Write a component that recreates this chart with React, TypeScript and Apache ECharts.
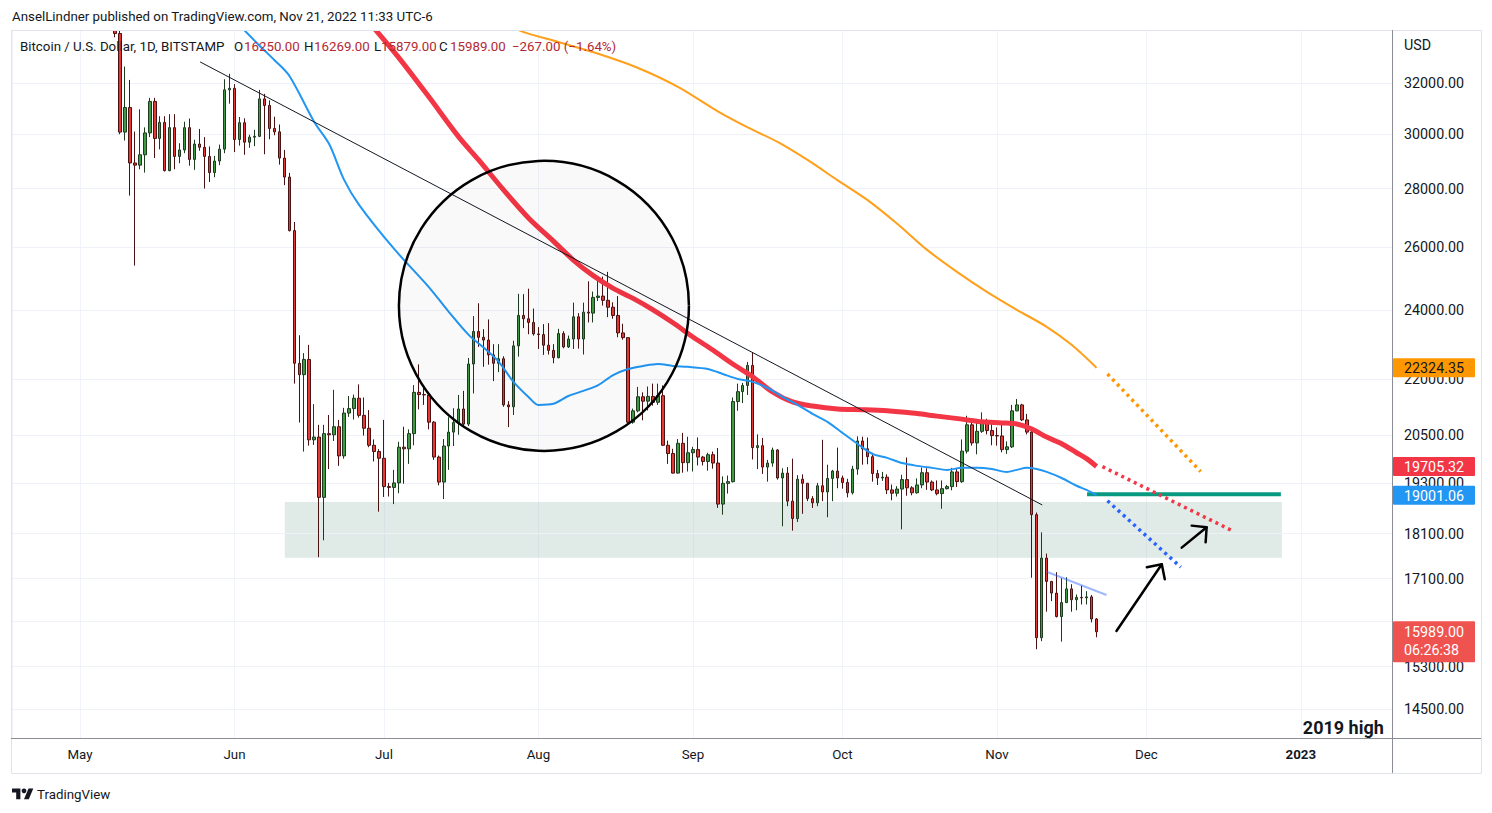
import { useEffect, useRef } from 'react';
import * as echarts from 'echarts';

const DAY = 86400000;
const BASE = new Date(2022, 4, 1).getTime(); // day 0 = 1 May 2022
const ts = (d: number) => BASE + d * DAY;

const FIRST_CANDLE_DAY = 7; // 8 May 2022
// [open, high, low, close] per day, BTC/USD Bitstamp, 1D
const candles: number[][] = [
  [35470, 35500, 33900, 34060], [34060, 34240, 29990, 30070], [30070, 32670, 29750, 31020], [31020, 32120, 27750, 28920],
  [28920, 30090, 25400, 28840], [28840, 30950, 28690, 29220], [29220, 30250, 28570, 30040], [30040, 31400, 29880, 31260],
  [31260, 31400, 29100, 29830], [29830, 30680, 29420, 30440], [30440, 30680, 28610, 28640], [28640, 30760, 28620, 30240],
  [30240, 30760, 28690, 29160], [29160, 29650, 28910, 29400], [29400, 30470, 29280, 30240], [30240, 30590, 28820, 29050],
  [29050, 29780, 28670, 29620], [29620, 30190, 29370, 29500], [29500, 29880, 28000, 29160], [29160, 29530, 28230, 28570],
  [28570, 29180, 28400, 28990], [28990, 29600, 28840, 29430], [29430, 32150, 29280, 31720], [31720, 32370, 31170, 31780],
  [31780, 31950, 29320, 29790], [29790, 30650, 29560, 30430], [30430, 30600, 29220, 29690], [29690, 29970, 29480, 29880],
  [29880, 30160, 29540, 29910], [29910, 31720, 29880, 31360], [31360, 31560, 29240, 31100], [31100, 31300, 29800, 30210],
  [30210, 30660, 29950, 30080], [30080, 30360, 28860, 29100], [29100, 29400, 28120, 28410], [28410, 28560, 26520, 26550],
  [26550, 26840, 21880, 22450], [22450, 23260, 20830, 22130], [22130, 22740, 20080, 22560], [22560, 22980, 20230, 20380],
  [20380, 21320, 20250, 20450], [20450, 20770, 17570, 18950], [18950, 20770, 17950, 20540], [20540, 21030, 19640, 20510],
  [20510, 21710, 20350, 20720], [20720, 20900, 19720, 19970], [19970, 21220, 19900, 21080], [21080, 21540, 20980, 21200],
  [21200, 21580, 20910, 21480], [21480, 21860, 20960, 21020], [21020, 21500, 20490, 20680], [20680, 21160, 20190, 20240],
  [20240, 20390, 19830, 20080], [20080, 20140, 18610, 19910], [19910, 20900, 18960, 19210], [19210, 19300, 18970, 19190],
  [19190, 19620, 18790, 19300], [19300, 20330, 19050, 20190], [20190, 20720, 19280, 20150], [20150, 20650, 19770, 20540],
  [20540, 21840, 20240, 21640], [21640, 22420, 21180, 21580], [21580, 21800, 21300, 21570], [21570, 21650, 20650, 20840],
  [20840, 20870, 19870, 19940], [19940, 19980, 19240, 19320], [19320, 20400, 18910, 20220], [20220, 20970, 19620, 20580],
  [20580, 21210, 20220, 20830], [20830, 21570, 20510, 21190], [21190, 21680, 20720, 20790], [20790, 22600, 20740, 22430],
  [22430, 23830, 21610, 23370], [23370, 24220, 22920, 23200], [23200, 23440, 22350, 23120], [23120, 23730, 22410, 22690],
  [22690, 23000, 21950, 22450], [22450, 23000, 22200, 22580], [22580, 22650, 21250, 21300], [21300, 21400, 20710, 21250],
  [21250, 23100, 21030, 22950], [22950, 24510, 22640, 23850], [23850, 24500, 23470, 23750], [23750, 24670, 23290, 23640],
  [23640, 24060, 23250, 23300], [23300, 23500, 22860, 23280], [23280, 23590, 22690, 22970], [22970, 23620, 22700, 22820],
  [22820, 23000, 22450, 22610], [22610, 23450, 22590, 23310], [23310, 23380, 22880, 22920], [22920, 23250, 22890, 23150],
  [23150, 24240, 22860, 23810], [23810, 23920, 22870, 23150], [23150, 24240, 22700, 23950], [23950, 24900, 23640, 23920],
  [23920, 24580, 23640, 24400], [24400, 24950, 24290, 24440], [24440, 25050, 24150, 24310], [24310, 25200, 23800, 24100],
  [24100, 24250, 23750, 23850], [23850, 24440, 23200, 23330], [23330, 23600, 23130, 23190], [23190, 23200, 20810, 20840],
  [20840, 21200, 20800, 21140], [21140, 21790, 21100, 21520], [21520, 21640, 20890, 21400], [21400, 21800, 21150, 21530],
  [21530, 21880, 21280, 21370], [21370, 21880, 21300, 21550], [21550, 21830, 20220, 20240], [20240, 20360, 19770, 20030],
  [20030, 20150, 19530, 19540], [19540, 20400, 19530, 20290], [20290, 20560, 19550, 19800], [19800, 20460, 19580, 20050],
  [20050, 20200, 19580, 20130], [20130, 20440, 19730, 19940], [19940, 19970, 19730, 19830], [19830, 20050, 19600, 20000],
  [20000, 20080, 19650, 19790], [19790, 20170, 18700, 18790], [18790, 19460, 18540, 19290], [19290, 19480, 19040, 19330],
  [19330, 21500, 19310, 21390], [21390, 21880, 21140, 21660], [21660, 21900, 21350, 21830], [21830, 22490, 21570, 22390],
  [22390, 22760, 19880, 20180], [20180, 20520, 19640, 20230], [20230, 20430, 19520, 19690], [19690, 19870, 19330, 19790],
  [19790, 20180, 19700, 20120], [20120, 20140, 19380, 19420], [19420, 19660, 18270, 19540], [19540, 19690, 18740, 18860],
  [18860, 19900, 18170, 18450], [18450, 19490, 18370, 19390], [19390, 19510, 18560, 19290], [19290, 19300, 18860, 18920],
  [18920, 18980, 18700, 18820], [18820, 19300, 18740, 19230], [19230, 20380, 18860, 19080], [19080, 19750, 18480, 19410],
  [19410, 19620, 18860, 19590], [19590, 20180, 19170, 19420], [19420, 19480, 19160, 19310], [19310, 19400, 18950, 19060],
  [19060, 19720, 19020, 19640], [19640, 20470, 19500, 20350], [20350, 20460, 19750, 20150], [20150, 20440, 19760, 19950],
  [19950, 20050, 19330, 19530], [19530, 19620, 19250, 19420], [19420, 19570, 19350, 19440], [19440, 19510, 19030, 19130],
  [19130, 19260, 18880, 19050], [19050, 19220, 18970, 19150], [19150, 19500, 18200, 19380], [19380, 19930, 18990, 19180],
  [19180, 19220, 19000, 19060], [19060, 19410, 19040, 19250], [19250, 19680, 19170, 19550], [19550, 19660, 19130, 19320],
  [19320, 19360, 19100, 19130], [19130, 19360, 19000, 19040], [19040, 19360, 18680, 19160], [19160, 19250, 19140, 19210],
  [19210, 19670, 19120, 19570], [19570, 19670, 19200, 19330], [19330, 20390, 19300, 20090], [20090, 21010, 20030, 20770],
  [20770, 20890, 20230, 20300], [20300, 20830, 20010, 20600], [20600, 21100, 20560, 20820], [20820, 20930, 20520, 20620],
  [20620, 20820, 20240, 20490], [20490, 20700, 20230, 20480], [20480, 20780, 20060, 20130], [20130, 20340, 20020, 20200],
  [20200, 21300, 20170, 21140], [21140, 21460, 21130, 21300], [21300, 21330, 20870, 20900], [20900, 21060, 20520, 20580],
  [20580, 20640, 17120, 18540], [18540, 18590, 15640, 15870], [15870, 18130, 15800, 17550], [17550, 17650, 16400, 17040],
  [17040, 17050, 16620, 16790], [16790, 17240, 16280, 16300], [16300, 17110, 15790, 16590], [16590, 17130, 16580, 16880],
  [16880, 16980, 16400, 16650], [16650, 16760, 16430, 16700], [16700, 16950, 16550, 16690], [16690, 16830, 16550, 16710],
  [16710, 16750, 16180, 16250], [16250, 16269, 15879, 15989],
];

// moving averages: [day since 1 May 2022, price]
const ma50: number[][] = [
  [32, 34420], [36, 33550], [39, 32940], [42, 32290], [47, 30460], [50, 29620], [53, 28310], [56, 27430],
  [63, 25950], [70, 24720], [74, 23960], [78, 23270], [81, 22900], [84, 22500], [87, 21930], [90, 21515],
  [92, 21300], [95, 21330], [98, 21540], [101, 21680], [104, 21840], [107, 22120], [110, 22290], [113, 22375],
  [116, 22430], [119, 22375], [122, 22350], [126, 22290], [129, 22150], [132, 22010], [135, 21930], [138, 21760],
  [141, 21520], [144, 21300], [147, 21060], [150, 20850], [153, 20560], [156, 20280], [159, 20020], [162, 19920],
  [165, 19790], [168, 19720], [171, 19670], [174, 19620], [177, 19670], [180, 19670], [183, 19640], [186, 19570],
  [188, 19620], [190, 19670], [192, 19640], [194, 19570], [197, 19420], [200, 19230], [202, 19130], [204, 19001],
];
const ma100: number[][] = [
  [58, 34550], [64, 33030], [70, 31440], [76, 29890], [80, 29030], [85, 27950], [90, 26980], [95, 26200],
  [99, 25580], [103, 25080], [107, 24680], [111, 24370], [115, 24020], [119, 23630], [123, 23210], [127, 22830],
  [131, 22430], [135, 22070], [139, 21650], [143, 21380], [147, 21270], [152, 21190], [157, 21170], [162, 21140],
  [167, 21080], [172, 21000], [177, 20920], [181, 20850], [185, 20820], [188, 20790], [191, 20660], [194, 20450],
  [197, 20280], [200, 20050], [202, 19900], [204, 19705],
];
const ma200: number[][] = [
  [86, 34600], [88, 34210], [96, 33700], [104, 33200], [112, 32610], [120, 31840], [128, 30870], [134, 30250],
  [140, 29700], [146, 29030], [152, 28300], [158, 27600], [164, 26780], [170, 25910], [176, 25200], [182, 24570],
  [188, 24020], [194, 23510], [199, 22980], [204, 22324],
];

// drawings
const trendLine = [[24.1, 32860], [193.1, 18770]];
const minorTrend = [[194.0, 17250], [206.0, 16750]];
const proj200 = [[206.2, 22150], [224.9, 19580]];
const proj100 = [[205.2, 19700], [231.2, 18170]];
const proj50 = [[206.2, 18870], [220.9, 17350]];
const supportLine = [[202.1, 19026], [241.0, 19026]];
const supportZone = [[41.1, 18842], [241.2, 17560]];
const circleCenter = [93.1, 24140];
const arrowUp1 = [[208.0, 16006], [217.1, 17414]];
const arrowHead1 = [[214.1, 17348], [217.1, 17414], [217.7, 17087]];
const arrowUp2 = [[221.1, 17783], [226.1, 18248]];
const arrowHead2 = [[223.1, 18285], [226.1, 18248], [225.9, 17905]];
const noteAnchor = [245.4, 14160];

const yTicks = [32000, 30000, 28000, 26000, 24000, 22000, 20500, 19300, 18100, 17100, 15300, 14500];
const yGridOnly = [16200]; // tick hidden behind the last-price tag
const monthNames = ['Jan', 'Feb', 'Mar', 'Apr', 'May', 'Jun', 'Jul', 'Aug', 'Sep', 'Oct', 'Nov', 'Dec'];
const maLast = [22324.35, 19705.32, 19001.06];
const lastPrice = 15989.0;
const countdown = '06:26:38';
const ohlcText = ['16250.00', '16269.00', '15879.00', '15989.00', '−267.00 (−1.64%)'];

const X_MIN = ts(-13.65);
const X_MAX = ts(263.3);
const Y_MIN = 13980;
const Y_MAX = 34213;

const FONT = 'Roboto, "Liberation Sans", Arial, sans-serif';
const TEXT = '#131722';
const DOWN_TXT = '#b22833';
const AXIS_FS = 14.3;

echarts.graphic.registerShape(
  'tvlogo',
  echarts.graphic.extendPath('M14 22H7V11H0V4h14v18zM28 22h-8l7.5-18h8L28 22z', {}) as any
);

const toXY = (arr: number[][]) => arr.map(([d, v]) => [ts(d), v]);

function text(x: number, y: number, s: string, opts: any = {}) {
  return {
    type: 'text',
    x,
    y,
    z: 60,
    silent: true,
    style: {
      text: s,
      fill: opts.fill || TEXT,
      fontSize: opts.size || 13.3,
      fontWeight: opts.weight || 'normal',
      fontFamily: FONT,
      align: opts.align || 'left',
      textAlign: opts.align || 'left',
      verticalAlign: 'middle',
      textVerticalAlign: 'middle',
    },
  };
}

export default function App() {
  const ref = useRef<HTMLDivElement>(null);

  useEffect(() => {
    if (!ref.current) return;
    const chart = echarts.init(ref.current, null, { renderer: 'svg' });

    const lineSeries = (data: number[][], color: string, width: number, extra: any = {}) => ({
      type: 'line',
      data: toXY(data),
      showSymbol: false,
      symbol: 'none',
      silent: true,
      clip: true,
      z: 3,
      lineStyle: { color, width, ...(extra.lineStyle || {}) },
      smooth: extra.smooth || false,
    });

    const option: any = {
      animation: false,
      backgroundColor: '#ffffff',
      textStyle: { fontFamily: FONT },
      grid: { left: 12, top: 30, width: 1380, height: 708 },
      xAxis: {
        type: 'time',
        min: X_MIN,
        max: X_MAX,
        splitNumber: 9,
        minInterval: 28 * DAY,
        maxInterval: 31 * DAY,
        axisLine: { show: false },
        axisTick: { show: false },
        splitLine: { show: true, lineStyle: { color: '#f0f3fa', width: 1 } },
        axisLabel: {
          color: TEXT,
          fontSize: 13.3,
          fontFamily: FONT,
          margin: 10,
          showMinLabel: false,
          showMaxLabel: false,
          formatter: (v: number) => {
            const dt = new Date(v);
            if (dt.getDate() !== 1) return '';
            const m = dt.getMonth();
            return m === 0 ? '{y|' + dt.getFullYear() + '}' : monthNames[m];
          },
          rich: { y: { fontWeight: 'bold', fontSize: 13.3, color: TEXT, fontFamily: FONT } },
        },
      },
      yAxis: {
        type: 'log',
        logBase: 10,
        min: Y_MIN,
        max: Y_MAX,
        position: 'right',
        axisLine: { show: false },
        axisTick: { show: false },
        axisLabel: { show: false },
        splitLine: { show: false },
      },
      series: [
        {
          type: 'line',
          data: toXY(supportLine),
          showSymbol: false,
          symbol: 'none',
          silent: true,
          z: 3,
          lineStyle: { color: '#089981', width: 4 },
          markArea: {
            silent: true,
            z: 0,
            itemStyle: { color: 'rgba(170,196,188,0.36)' },
            data: [[{ coord: [ts(supportZone[0][0]), supportZone[0][1]] }, { coord: [ts(supportZone[1][0]), supportZone[1][1]] }]],
          },
          markLine: {
            silent: true,
            z: 1,
            symbol: ['none', 'none'],
            animation: false,
            lineStyle: { color: '#eef1f7', width: 1, type: 'solid' },
            label: {
              show: true,
              position: 'end',
              distance: 12,
              color: TEXT,
              fontSize: AXIS_FS,
              fontFamily: FONT,
              formatter: (p: any) => Number(p.value).toFixed(2),
            },
            emphasis: { disabled: true },
            data: [
              ...yTicks.map((v) => ({ yAxis: v })),
              ...yGridOnly.map((v) => ({ yAxis: v, label: { show: false } })),
            ],
          },
        },
        {
          type: 'candlestick',
          z: 2,
          barWidth: 3,
          silent: true,
          clip: true,
          data: candles.map((c, i) => [ts(FIRST_CANDLE_DAY + i), c[0], c[3], c[2], c[1]]),
          itemStyle: {
            color: '#3f9a43',
            color0: '#e53935',
            borderColor: '#1e3a1f',
            borderColor0: '#4a1212',
            borderWidth: 1,
          },
        },
        lineSeries(ma200, '#ff9f1a', 2, { smooth: 0.3 }),
        lineSeries(ma100, '#f23645', 5, { smooth: 0.3 }),
        lineSeries(ma50, '#2196f3', 2, { smooth: 0.3 }),
        lineSeries(trendLine, '#131722', 1),
        lineSeries(minorTrend, 'rgba(41,98,255,0.45)', 2),
        lineSeries(proj200, '#ff9800', 3.5, { lineStyle: { type: [3, 4] } }),
        lineSeries(proj100, '#f23645', 3.5, { lineStyle: { type: [3, 4] } }),
        lineSeries(proj50, '#2962ff', 3.5, { lineStyle: { type: [3, 4] } }),
      ],
    };

    chart.setOption(option);

    const px = (p: number[]) => chart.convertToPixel({ gridIndex: 0 }, [ts(p[0]), p[1]]) as number[];
    const py = (v: number) => (chart.convertToPixel({ gridIndex: 0 }, [X_MIN, v]) as number[])[1];

    const c = px(circleCenter);
    const arrow = (pts: number[][]) => ({
      type: 'polyline',
      z: 55,
      silent: true,
      shape: { points: pts.map(px) },
      style: { stroke: '#000000', lineWidth: 2.5, fill: null, lineCap: 'round', lineJoin: 'round' },
    });

    const tagColors = [
      { bg: '#ff9800', fg: TEXT },
      { bg: '#f23645', fg: '#ffffff' },
      { bg: '#2196f3', fg: '#ffffff' },
    ];
    const tags: any[] = [];
    maLast.forEach((v, i) => {
      const y = py(v);
      tags.push({ type: 'rect', z: 70, silent: true, shape: { x: 1393, y: y - 9.5, width: 82, height: 19, r: 1 }, style: { fill: tagColors[i].bg } });
      tags.push({ ...text(1404, y + 0.5, v.toFixed(2), { fill: tagColors[i].fg, size: AXIS_FS }), z: 71 });
    });
    const ly = py(lastPrice);
    tags.push({ type: 'rect', z: 70, silent: true, shape: { x: 1393, y: ly - 10.5, width: 82, height: 41, r: 1 }, style: { fill: '#ef5350' } });
    tags.push({ ...text(1404, ly + 0.5, lastPrice.toFixed(2), { fill: '#ffffff', size: AXIS_FS }), z: 71 });
    tags.push({ ...text(1404, ly + 18.5, countdown, { fill: '#ffffff', size: AXIS_FS }), z: 71 });

    const note = px(noteAnchor);

    const elements: any[] = [
      // mask for candle parts poking above the pane
      { type: 'rect', z: 45, silent: true, shape: { x: 0, y: 0, width: 1492, height: 30 }, style: { fill: '#ffffff' } },
      // frame
      { type: 'rect', z: 46, silent: true, shape: { x: 11.5, y: 30.5, width: 1470, height: 743 }, style: { fill: null, stroke: '#e0e3eb', lineWidth: 1 } },
      { type: 'line', z: 47, silent: true, shape: { x1: 1392.5, y1: 30, x2: 1392.5, y2: 773 }, style: { stroke: '#8a8d96', lineWidth: 1 } },
      { type: 'line', z: 47, silent: true, shape: { x1: 11, y1: 738.5, x2: 1481, y2: 738.5 }, style: { stroke: '#8a8d96', lineWidth: 1 } },
      // headers
      text(12, 16, 'AnselLindner published on TradingView.com, Nov 21, 2022 11:33 UTC-6'),
      text(20, 46, 'Bitcoin / U.S. Dollar, 1D, BITSTAMP'),
      text(234, 46, 'O'),
      text(244, 46, ohlcText[0], { fill: DOWN_TXT }),
      text(304, 46, 'H'),
      text(314, 46, ohlcText[1], { fill: DOWN_TXT }),
      text(374, 46, 'L'),
      text(381, 46, ohlcText[2], { fill: DOWN_TXT }),
      text(439, 46, 'C'),
      text(450, 46, ohlcText[3], { fill: DOWN_TXT }),
      text(512, 46, ohlcText[4], { fill: DOWN_TXT }),
      text(1404, 45, 'USD', { size: AXIS_FS }),
      // circle
      {
        type: 'circle',
        z: 50,
        silent: true,
        shape: { cx: c[0], cy: c[1], r: 145 },
        style: { fill: 'rgba(0,0,0,0.022)', stroke: '#000000', lineWidth: 2.5 },
      },
      arrow(arrowUp1),
      arrow(arrowHead1),
      arrow(arrowUp2),
      arrow(arrowHead2),
      { ...text(note[0], note[1], '2019 high', { size: 18, weight: 'bold' }), z: 60 },
      ...tags,
      // footer logo
      { type: 'tvlogo', x: 12, y: 786, scaleX: 0.6, scaleY: 0.6, z: 60, silent: true, style: { fill: TEXT } },
      { type: 'circle', z: 60, silent: true, shape: { cx: 12 + 20 * 0.6, cy: 786 + 8 * 0.6, r: 4 * 0.6 }, style: { fill: TEXT } },
      text(37, 794, 'TradingView', { size: 13.3 }),
    ];

    chart.setOption({ graphic: { elements } });

    return () => chart.dispose();
  }, []);

  return (
    <div
      ref={ref}
      style={{ position: 'absolute', left: 0, top: 0, width: 1492, height: 813, background: '#ffffff' }}
    />
  );
}
